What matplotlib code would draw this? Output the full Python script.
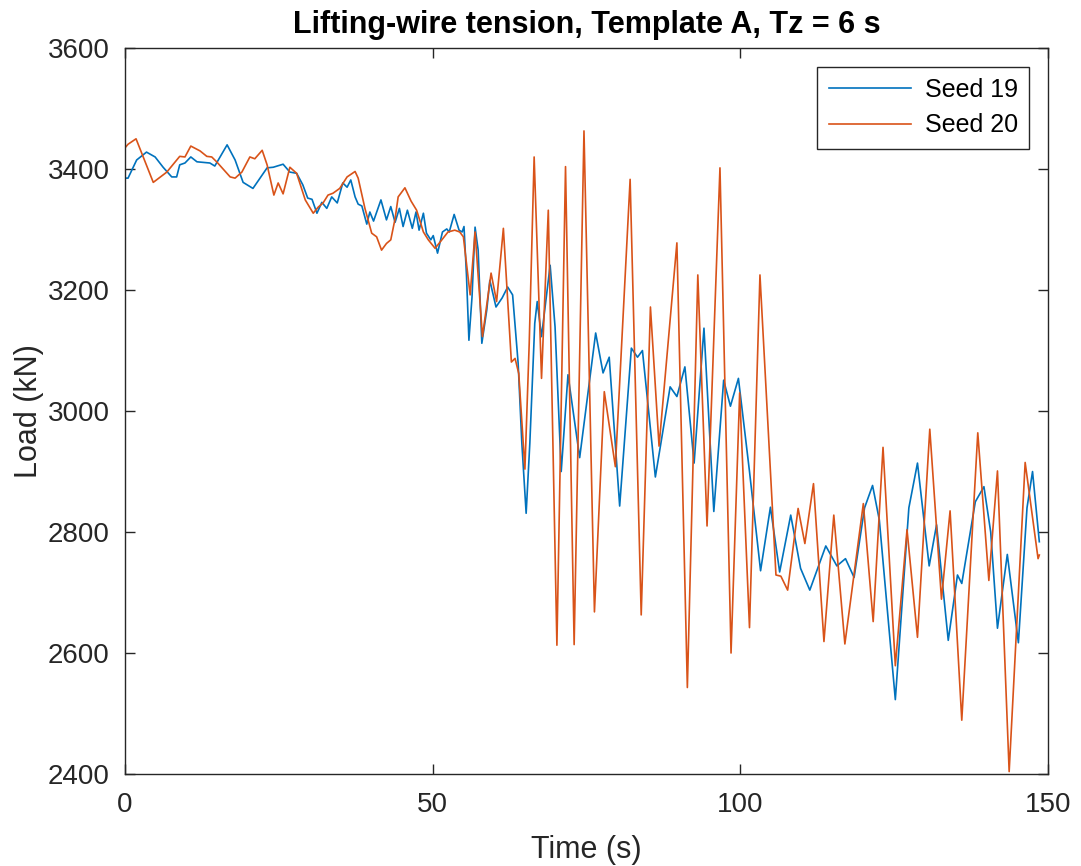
import matplotlib
matplotlib.use('Agg')
import matplotlib.pyplot as plt

# values (time in s, load in kN)
seed19 = [(0, 3385), (0.5, 3385), (1.9, 3415), (3.5, 3428), (4.9, 3420), (6.2, 3403), (7.6, 3387),
          (8.4, 3387), (8.9, 3407), (9.75, 3410), (10.7, 3420), (11.7, 3412), (13.8, 3410), (14.6, 3405),
          (16.6, 3440), (17.9, 3415), (19.2, 3378), (20.8, 3368), (23.1, 3402), (24.1, 3403), (25.7, 3408),
          (26.8, 3395), (27.9, 3393), (28.9, 3374), (29.7, 3352), (30.4, 3350), (31.2, 3327), (32, 3345),
          (32.8, 3335), (33.6, 3354), (34.5, 3344), (35.4, 3377), (36.1, 3370), (36.7, 3382), (37.4, 3354),
          (37.9, 3342), (38.5, 3339), (39.3, 3309), (39.8, 3329), (40.4, 3314), (41.6, 3349), (42.5, 3316),
          (43.2, 3338), (43.9, 3312), (44.6, 3335), (45.2, 3305), (45.9, 3332), (46.7, 3302), (47.3, 3329),
          (47.8, 3299), (48.5, 3327), (49, 3294), (49.7, 3283), (50.1, 3290), (50.8, 3261), (51.6, 3296),
          (52.3, 3301), (52.7, 3296), (53.5, 3325), (54.3, 3299), (54.8, 3296), (55.1, 3305), (55.5, 3225),
          (55.9, 3117), (56.4, 3188), (56.9, 3304), (57.4, 3266), (58, 3112), (58.8, 3167), (59.3, 3216),
          (60.3, 3172), (61.3, 3187), (62.2, 3205), (63, 3192), (63.9, 3079), (64.5, 2947), (65.2, 2831),
          (65.8, 2947), (66.6, 3145), (67, 3181), (67.7, 3123), (69.1, 3241), (69.9, 3139), (70.9, 2900),
          (72, 3060), (73.9, 2923), (76.5, 3129), (77.7, 3063), (78.7, 3089), (80.4, 2843), (82.3, 3104),
          (83.3, 3089), (84.1, 3100), (86.2, 2891), (88.6, 3040), (89.7, 3024), (91, 3073), (92.5, 2914),
          (94.1, 3137), (95.7, 2834), (97.3, 3051), (98.4, 3008), (99.7, 3054), (101.5, 2900), (103.3, 2736),
          (104.9, 2841), (106.4, 2734), (108.2, 2828), (109.8, 2740), (111.3, 2704), (113.9, 2777),
          (115.7, 2744), (117.1, 2756), (118.5, 2725), (120.2, 2840), (121.5, 2877), (122.6, 2820),
          (125.2, 2523), (127.4, 2840), (128.8, 2914), (130.7, 2744), (131.9, 2812), (133.8, 2621),
          (135.3, 2729), (136, 2715), (138.2, 2850), (139.6, 2875), (140.7, 2800), (141.8, 2641),
          (143.4, 2763), (145.2, 2617), (146.6, 2840), (147.5, 2900), (148.6, 2784)]

seed20 = [(0, 3435), (0.5, 3441), (1.8, 3450), (4.6, 3378), (6.8, 3395), (8.9, 3421), (9.75, 3420),
          (10.7, 3438), (12.2, 3430), (13.3, 3421), (14.1, 3420), (14.9, 3412), (17.1, 3387), (17.9, 3385),
          (19, 3395), (20.3, 3420), (21.1, 3417), (22.3, 3431), (23.1, 3407), (24.2, 3357), (24.9, 3377),
          (25.7, 3359), (26.8, 3403), (27.9, 3393), (29.3, 3349), (30.6, 3327), (31.4, 3337), (32.2, 3344),
          (33, 3357), (33.8, 3360), (34.9, 3368), (36.1, 3387), (37.4, 3396), (37.9, 3385), (39, 3335),
          (40.1, 3294), (40.9, 3288), (41.7, 3266), (42.5, 3277), (43.2, 3283), (43.9, 3318), (44.4, 3354),
          (45.5, 3369), (46.5, 3347), (47.4, 3332), (48.5, 3296), (49.3, 3283), (50.4, 3269), (51.5, 3283),
          (52.5, 3296), (53.6, 3299), (54.4, 3296), (55, 3288), (56.1, 3192), (56.9, 3296), (58.1, 3123),
          (59.5, 3228), (60.4, 3181), (61.5, 3302), (62.8, 3081), (63.4, 3087), (64, 3062), (65, 2904),
          (65.7, 3112), (66.5, 3420), (67.7, 3054), (68.8, 3332), (70.2, 2613), (71.6, 3404), (73, 2614),
          (74.6, 3463), (76.3, 2668), (77.9, 3032), (79.7, 2908), (82.1, 3383), (83.9, 2663), (85.4, 3172),
          (86.8, 2942), (89.7, 3278), (91.4, 2543), (93.1, 3225), (94.6, 2810), (96.7, 3402), (98.5, 2600),
          (99.9, 3030), (101.5, 2642), (103.2, 3225), (105.8, 2729), (106.6, 2727), (107.7, 2704),
          (109.4, 2839), (110.5, 2781), (111.9, 2880), (113.6, 2619), (115.2, 2828), (117, 2615), (120, 2847),
          (121.6, 2652), (123.2, 2940), (125.2, 2579), (127.1, 2804), (128.8, 2626), (130.8, 2970),
          (132.7, 2689), (134.1, 2835), (136, 2489), (138.6, 2964), (140.4, 2720), (141.8, 2901),
          (143.7, 2404), (146.3, 2915), (148.4, 2756), (148.6, 2762)]

series_names = ['Seed 19', 'Seed 20']
series_colors = ['#0072BD', '#D95319']
x_ticks = [0, 50, 100, 150]
y_ticks = [2400, 2600, 2800, 3000, 3200, 3400, 3600]

plt.rcParams['font.family'] = ['Liberation Sans', 'DejaVu Sans']

fig = plt.figure(figsize=(10.81, 8.66), dpi=100)
ax = fig.add_axes([0.1156, 0.1062, 0.8538, 0.8383])

for data, name, col in zip([seed19, seed20], series_names, series_colors):
    t, v = zip(*data)
    ax.plot(t, v, color=col, linewidth=1.2, label=name, solid_joinstyle='round')

ax.set_xlim(0, 150)
ax.set_ylim(2400, 3600)
ax.set_xticks(x_ticks)
ax.set_yticks(y_ticks)

grey = '#262626'
ax.tick_params(direction='in', top=True, right=True, length=7, width=1,
               labelsize=20, colors=grey)
ax.tick_params(axis='x', pad=13)
ax.tick_params(axis='y', pad=11)
for sp in ax.spines.values():
    sp.set_color(grey)
    sp.set_linewidth(1)

ax.set_xlabel('Time (s)', fontsize=22, color=grey, labelpad=12)
ax.set_ylabel('Load (kN)', fontsize=22, color=grey, labelpad=3)
ax.set_title('Lifting-wire tension, Template A, Tz = 6 s', fontsize=22, fontweight='bold', pad=11)

leg = ax.legend(loc='upper right', fontsize=18, fancybox=False, framealpha=1,
                edgecolor=grey, borderaxespad=0.75, handlelength=3.3, handletextpad=0.55,
                borderpad=0.45, labelspacing=0.45)
leg.get_frame().set_linewidth(1)

plt.savefig('out.png', dpi=100)
